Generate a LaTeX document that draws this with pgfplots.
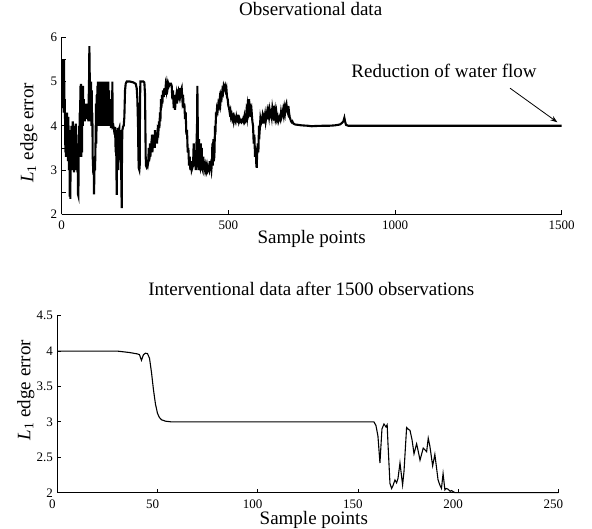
\documentclass[border=0pt]{standalone}
\usepackage{fontspec}
\setmainfont{Liberation Serif}
\usepackage{pgfplots}
\pgfplotsset{compat=1.18}
\usetikzlibrary{arrows.meta}

\pgfplotsset{
  matlabstyle/.style={
    scale only axis,
    axis x line=bottom,
    axis y line=left,
    axis line style={-, line width=1pt},
    tick align=inside,
    major tick length=4pt,
    tick style={black, line width=0.8pt},
    /pgf/number format/assume math mode=true,
    /pgf/number format/1000 sep={},
    tick label style={font=\fontsize{13}{13}\selectfont, inner sep=1pt},
    xticklabel style={yshift=-5.8pt},
    yticklabel style={xshift=-3.3pt},
    label style={font=\fontsize{19}{19}\selectfont, inner sep=0pt},
    title style={font=\fontsize{19}{19}\selectfont, inner sep=0pt, anchor=north},
  }
}

\begin{document}
\begin{tikzpicture}
\path[use as bounding box] (0,0) rectangle (592pt,-529pt);

% observational data
\begin{axis}[
    matlabstyle,
    at={(61.7pt,-37.3pt)}, anchor=north west,
    width=500pt, height=177pt,
    xmin=0, xmax=1500, ymin=2, ymax=6,
    xtick={0,500,1000,1500},
    ytick={2,2.5,...,6},
    yticklabels={2,,3,,4,,5,,6},
    title={Observational data},
    title style={at={(axis description cs:0.498,1.164)}},
    xlabel={Sample points},
    xlabel style={at={(axis description cs:0.5,-0.092)}, anchor=north},
    ylabel={\textit{L}\textsubscript{1} edge error},
    ylabel style={at={(axis description cs:-0.048,0.46)}, anchor=south},
]
\addplot[black, line width=2.1pt] coordinates {
(0,4.5) (1,5.5) (2,4.4) (3,4.9) (4,4.4) (5,5.0) (6,4.3) (7,5.5) (8,4.5) (9,4.6)
(10,4.2) (11,3.4) (12,4.2) (13,3.3) (14,4.1) (15,3.6) (16,4.3) (17,3.3) (18,3.9) (19,3.2)
(20,4.2) (21,3.4) (22,3.0) (23,3.8) (24,2.4) (25,3.3) (26,2.35) (27,3.9) (28,3.2) (29,4.0)
(30,3.1) (31,3.9) (32,3.3) (33,4.1) (34,3.0) (35,3.8) (36,3.1) (37,2.95) (38,4.0) (39,3.2)
(40,3.9) (41,3.0) (42,4.05) (43,3.1) (44,3.8) (45,3.0) (46,3.6) (47,2.95) (48,3.3) (49,2.45)
(50,2.42) (51,3.3) (52,4.0) (53,3.4) (54,4.3) (55,3.3) (56,4.9) (57,3.6) (58,4.95) (59,3.3)
(60,4.9) (61,3.4) (62,4.7) (63,4.0) (64,4.9) (65,4.1) (66,4.6) (67,4.2) (68,4.5) (69,4.1)
(70,4.4) (72,4.2) (74,4.5) (76,4.15) (78,4.4) (80,4.1) (81,4.6) (82,5.0) (83,5.8) (84,5.2)
(85,4.3) (86,4.9) (87,4.1) (88,5.0) (89,4.0) (90,4.8) (91,4.0) (92,4.3) (93,3.3) (94,3.1)
(95,2.9) (96,3.2) (97,2.45) (98,2.9) (99,3.2) (100,3.0) (102,3.8) (103,4.5) (104,3.6) (105,4.7)
(106,4.0) (107,4.9) (108,4.2) (109,5.0) (110,4.0) (110.5,5.0) (111,4.0) (111.5,5.0) (112,4.0) (112.5,5.0)
(113,4.0) (113.5,5.0) (114,4.05) (114.5,5.0) (115,4.0) (115.5,5.0) (116,4.0) (116.5,5.0) (117,4.0) (117.5,5.0)
(118,4.1) (118.5,5.0) (119,4.0) (119.5,5.0) (120,4.0) (120.5,5.0) (121,4.0) (121.5,5.0) (122,4.0) (122.5,4.95)
(123,4.0) (123.5,5.0) (124,4.05) (124.5,5.0) (125,4.0) (125.5,5.0) (126,4.0) (126.5,5.0) (127,4.0) (127.5,5.0)
(128,4.1) (128.5,5.0) (129,4.0) (129.5,5.0) (130,4.0) (130.5,5.0) (131,4.0) (131.5,5.0) (132,4.0) (132.5,5.0)
(133,4.0) (133.5,4.9) (134,4.0) (134.5,5.0) (135,4.2) (136,5.0) (137,4.0) (138,4.8) (139,4.1) (140,5.0)
(141,4.0) (142,4.8) (143,4.1) (144,4.6) (145,4.4)
(146,4.0) (147,4.3) (148,3.95) (150,4.35) (151,4.0) (152,5.0) (153,3.98) (155,4.0) (157,3.9) (159,3.95)
(160,3.95) (162,3.4) (163,3.9) (165,2.44) (166,3.9) (167,3.6) (168,3.95) (170,3.0) (171,3.9) (173,3.95)
(175,3.5) (176,3.9) (178,3.2) (180,2.14) (181,3.5) (182,3.9) (184,3.98) (186,4.0) (188,4.2) (190,4.8)
(192,4.95) (195,5.0) (205,5.0) (215,4.98) (222,4.95) (225,4.85) (227,4.6) (229,4.0) (230,3.4) (231,3.05)
(233,3.0) (234,3.1) (235,4.5) (236,5.0) (245,5.0) (248,4.98) (250,4.7) (251,4.0) (252,3.3) (253,3.1)
(254,3.08) (256,3.15) (258,3.1) (260,3.2) (261,3.5) (262,3.2) (264,3.3) (265,3.6) (266,3.3) (268,3.5)
(270,3.4) (271,3.8) (272,3.4) (274,3.6) (276,3.5) (278,3.8) (279,3.5) (280,3.9) (281,3.6) (283,3.7)
(285,3.85) (286,3.6) (288,3.9) (290,3.85) (292,4.1) (293,3.95) (295,4.3) (296,4.1) (298,4.6) (299,4.4)
(301,4.7) (302,4.5) (304,4.8) (306,4.65) (308,4.85) (310,4.7) (312,4.9) (314,4.8) (316,4.95) (318,4.85)
(320,4.95) (322,4.9) (325,4.95) (328,4.95) (330,4.9) (332,4.6) (334,4.8) (336,4.4) (338,4.7) (340,4.36)
(342,4.6) (344,4.7) (346,4.5) (348,4.75) (350,4.8) (352,4.7) (354,4.85) (356,4.7) (358,4.8) (360,4.85)
(362,4.6) (364,4.7) (366,4.4) (368,4.5) (370,4.15) (372,4.3) (374,3.8) (376,3.9) (378,3.4) (380,3.5)
(382,3.1) (384,3.3) (386,3.0) (388,3.2) (390,3.0) (392,3.05) (394,3.1) (396,3.6) (398,3.1) (400,3.3)
(402,3.0) (404,3.5) (406,4.0) (407,4.9) (408,4.2) (409,3.3) (410,3.0) (412,3.7) (413,3.1) (415,3.05)
(417,3.6) (418,3.0) (420,3.5) (421,3.05) (423,3.0) (425,3.3) (426,3.0) (428,3.1) (430,3.0) (432,3.1)
(434,3.0) (436,3.1) (438,3.0) (440,3.05) (442,3.0) (444,3.2) (445,3.0) (447,3.1) (449,3.0) (451,3.2)
(452,3.6) (453,3.1) (455,3.7) (456,3.2) (458,3.3) (460,4.0) (461,3.8) (463,4.3) (464,4.2) (466,4.4)
(468,4.35) (470,4.5) (472,4.45) (474,4.6) (476,4.5) (478,4.7) (480,4.65) (482,4.8) (484,4.75) (486,4.9)
(488,4.85) (490,4.9) (492,4.8) (494,4.85) (496,4.65) (498,4.6) (500,4.45) (502,4.4) (504,4.3) (506,4.35)
(508,4.2) (510,4.25) (512,4.15) (514,4.2) (516,4.1) (518,4.2) (520,4.15) (522,4.1) (524,4.2) (526,4.12)
(528,4.1) (530,4.25) (532,4.1) (534,4.15) (536,4.1) (538,4.12) (540,4.08) (542,4.1) (544,4.15) (546,4.1)
(548,4.2) (550,4.08) (552,4.1) (554,4.3) (556,4.2) (558,4.45) (560,4.35) (562,4.6) (564,4.4) (566,4.5)
(568,4.2) (570,4.3) (572,4.1) (574,4.0) (576,3.6) (578,3.8) (580,3.3) (582,3.5) (584,3.1) (585,3.05)
(586,3.3) (588,3.6) (590,3.4) (592,4.0) (594,3.9) (596,4.15) (598,4.05) (600,4.1) (602,4.2) (604,4.05)
(606,4.2) (608,4.15) (610,4.25) (612,4.1) (614,4.2) (616,4.3) (618,4.15) (620,4.3) (622,4.2) (624,4.35)
(626,4.25) (628,4.3) (630,4.2) (632,4.4) (634,4.3) (636,4.45) (638,4.25) (640,4.35) (642,4.2) (644,4.3)
(646,4.15) (648,4.2) (650,4.1) (652,4.15) (654,4.2) (656,4.15) (658,4.3) (660,4.2) (662,4.25) (664,4.35)
(666,4.25) (668,4.4) (670,4.3) (672,4.45) (674,4.5) (676,4.35) (678,4.3) (680,4.45) (682,4.3) (684,4.2)
(686,4.15) (688,4.1) (690,4.08) (692,4.1) (695,4.05) (700,4.03) (710,4.02) (720,4.01) (740,4.0) (750,3.99)
(760,3.995) (780,4.0) (800,4.0) (820,4.01) (835,4.03) (840,4.06) (845,4.1) (848,4.18) (850,4.1) (853,4.02)
(860,4.0) (1000,4.0) (1500,4.0)
};
\node[anchor=base, font=\fontsize{19}{19}\selectfont] at (axis cs:1147,5.10) {Reduction of water flow};
\draw[line width=0.8pt, -{Stealth[length=7pt,width=5pt]}] (axis cs:1345,4.85) -- (axis cs:1487,4.08);
\end{axis}

% interventional data
\begin{axis}[
    matlabstyle,
    at={(57.3pt,-315.7pt)}, anchor=north west,
    width=501pt, height=177pt,
    xmin=0, xmax=250, ymin=2, ymax=4.5,
    xtick={0,50,...,250},
    ytick={2,2.5,...,4.5},
    yticklabels={2,2.5,3,3.5,4,4.5},
    xticklabel style={xshift=-5pt},
    clip=false,
    title={Interventional data after 1500 observations},
    title style={at={(axis description cs:0.507,1.157)}},
    xlabel={Sample points},
    xlabel style={at={(axis description cs:0.512,-0.104)}, anchor=north},
    ylabel={\textit{L}\textsubscript{1} edge error},
    ylabel style={at={(axis description cs:-0.045,0.58)}, anchor=south},
]
\addplot[black, line width=1.1pt] coordinates {
(0,4.0) (30,4.0) (33,3.99) (36,3.98) (38,3.97) (40,3.96) (41,3.95) (42,3.87) (43,3.95) (44,3.97)
(45,3.965) (46,3.9) (47,3.7) (48,3.45) (49,3.25) (50,3.12) (51,3.06) (52,3.03) (54,3.01) (57,3.0)
(80,3.0) (158,3.0) (159,2.95) (160,2.8) (161,2.42) (162,2.9) (163,2.97) (164,2.93) (164.6,2.96) (165,2.7)
(166,2.13) (166.8,2.06) (167.5,2.1) (168.5,2.18) (169.3,2.14) (170,2.2) (171,2.42) (172.3,2.11) (173,2.3) (174.3,2.92)
(175,2.9) (176,2.88) (177,2.75) (178,2.55) (179.3,2.69) (180,2.6) (181,2.46) (182.6,2.63) (184.3,2.58) (185.1,2.77)
(185.9,2.66) (187.3,2.38) (188.4,2.54) (190,2.18) (191,2.1) (191.7,2.06) (192.5,2.27) (193.4,2.04) (194,2.06) (195,2.05)
(196,2.02) (196.7,2.03) (198.4,2.0) (200,2.0) (250,2.0)
};
\end{axis}
\end{tikzpicture}
\end{document}
